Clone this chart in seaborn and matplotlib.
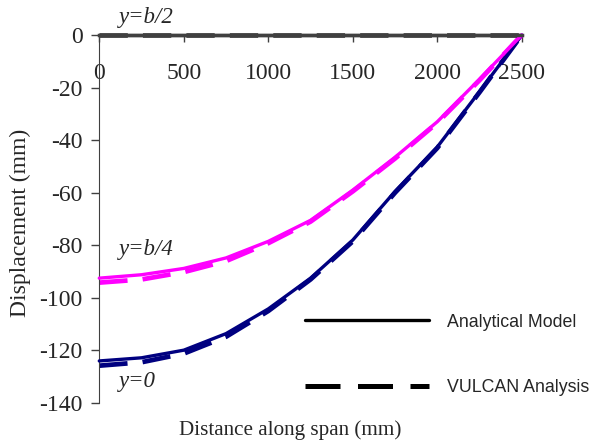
import matplotlib
matplotlib.use("Agg")
import matplotlib.pyplot as plt
import seaborn as sns
import pandas as pd
from matplotlib.lines import Line2D

# ---- data ----
distance = [0, 250, 500, 750, 1000, 1250, 1500, 1750, 2000, 2250, 2500]
y0_analytical = [-124.0, -122.8, -119.9, -113.6, -104.2, -92.5, -78.0, -59.5, -42.6, -21.5, 0.0]
y0_vulcan = [-125.8, -124.5, -121.2, -114.8, -105.0, -93.0, -78.5, -60.0, -43.0, -21.8, 0.0]
yb4_analytical = [-92.5, -91.2, -88.8, -84.8, -78.5, -70.5, -59.0, -46.5, -33.0, -16.8, 0.0]
yb4_vulcan = [-94.2, -93.0, -90.2, -86.0, -79.2, -71.0, -59.5, -47.0, -33.4, -17.2, 0.0]
yb2_analytical = [0.0] * len(distance)
yb2_vulcan = [0.0] * len(distance)
x_ticks = [0, 500, 1000, 1500, 2000, 2500]
y_ticks = [0, -20, -40, -60, -80, -100, -120, -140]

rows = []
for name, vals, color, style in [
    ("y0_a", y0_analytical, "#000080", "solid"),
    ("y0_v", y0_vulcan, "#000080", "dash"),
    ("yb4_a", yb4_analytical, "#FF00FF", "solid"),
    ("yb4_v", yb4_vulcan, "#FF00FF", "dash"),
    ("yb2_a", yb2_analytical, "#404040", "solid"),
    ("yb2_v", yb2_vulcan, "#404040", "dash"),
]:
    for xv, yv in zip(distance, vals):
        rows.append(dict(series=name, x=xv, y=yv, color=color, style=style))
df = pd.DataFrame(rows)

sns.set_style("white")
plt.rcParams['font.family'] = ['Liberation Serif', 'DejaVu Serif']

fig = plt.figure(figsize=(5.97, 4.46), dpi=100)
ax = fig.add_axes([0.1663, 0.0964, 0.874 - 0.1663, 0.9215 - 0.0964])

for name, sub in df.groupby("series", sort=False):
    color = sub["color"].iloc[0]
    style = sub["style"].iloc[0]
    if style == "solid":
        sns.lineplot(data=sub, x="x", y="y", ax=ax, color=color, lw=2.4,
                     estimator=None, sort=False, clip_on=False, zorder=3)
    else:
        l = sns.lineplot(data=sub, x="x", y="y", ax=ax, color=color, lw=3.4,
                         estimator=None, sort=False, clip_on=False, zorder=2)
        l.lines[-1].set_dashes((6, 3.2))

ax.set_xlim(0, 2500)
ax.set_ylim(-140, 0)
ax.set_xticks(x_ticks)
ax.set_yticks(y_ticks)
ax.set_xticklabels([str(t) for t in x_ticks])
ax.set_yticklabels([str(t) for t in y_ticks])
ax.xaxis.set_ticks_position('top')
ax.tick_params(axis='x', direction='in', length=5, width=1, color='#404040',
               labeltop=True, labelbottom=False, pad=-35.5, labelsize=17)
ax.tick_params(axis='y', direction='out', length=6, width=1, color='#404040',
               left=True, pad=6, labelsize=17)
for s in ['right', 'bottom']:
    ax.spines[s].set_visible(False)
ax.spines['left'].set_color('#404040')
ax.spines['top'].set_color('#404040')
ax.spines['top'].set_linewidth(2.5)
ax.set_xlabel("")
ax.set_ylabel("")

fig.text(20 / 597, 1 - 223 / 446, "Displacement (mm)", rotation=90,
         ha='center', va='center', fontsize=17)
fig.text(290 / 597, 1 - 430 / 446, "Distance along span (mm)",
         ha='center', va='center', fontsize=15.2)

fig.text(146 / 597, 1 - 18 / 446, "y=b/2", style='italic', ha='center', va='center', fontsize=16.5)
fig.text(146 / 597, 1 - 250 / 446, "y=b/4", style='italic', ha='center', va='center', fontsize=16.5)
fig.text(137 / 597, 1 - 382 / 446, "y=0", style='italic', ha='center', va='center', fontsize=16.5)

handles = [Line2D([], [], color='black', lw=2.4),
           Line2D([], [], color='black', lw=3.6, dashes=(7, 3.5))]
leg = ax.legend(handles, ["Analytical Model", "VULCAN Analysis"],
                loc='center left', bbox_to_anchor=(289 / 597, 1 - 355 / 446),
                bbox_transform=fig.transFigure, frameon=False,
                handlelength=7.0, handletextpad=1.0, labelspacing=2.75,
                prop={'family': 'Liberation Sans', 'size': 12.8})

fig.savefig("out.png", dpi=100)
